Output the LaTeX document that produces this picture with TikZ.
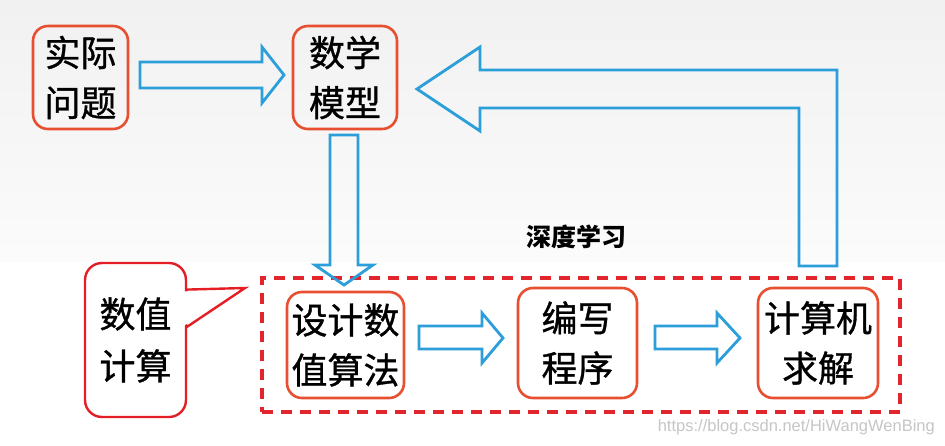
\documentclass[tikz,border=0pt]{standalone}
\usepackage{fontspec}
\newfontfamily\cjk{Noto Sans CJK SC}
\newfontfamily\cjkm[FakeBold=0.9]{Noto Sans CJK SC}
\newfontfamily\wmfont{Liberation Sans}
\definecolor{boxred}{RGB}{232,78,48}
\definecolor{dashred}{RGB}{226,36,44}
\definecolor{callred}{RGB}{228,30,36}
\definecolor{arrowblue}{RGB}{44,158,218}
\tikzset{
  box/.style={draw=boxred, line width=2.6pt, rounded corners=15pt, inner sep=0pt,
    align=center, font=\cjkm\fontsize{36}{50}\selectfont},
  calloutbox/.style={draw=callred, line width=2.4pt, rounded corners=17pt, inner sep=0pt,
    align=center, font=\cjkm\fontsize{36}{52}\selectfont},
  groupbox/.style={draw=dashred, line width=3.4pt, dash pattern=on 11pt off 8pt, inner sep=0pt},
  blockarrow/.style={draw=arrowblue, line width=2.8pt, line join=miter},
  titletext/.style={font=\cjk\bfseries\fontsize{25}{30}\selectfont},
  watermark/.style={font=\wmfont\fontsize{16.5}{20}\selectfont, text=gray!45, inner sep=0pt}
}
\begin{document}
\begin{tikzpicture}[x=1pt,y=-1pt]
\useasboundingbox (0,0) rectangle (945,445);
\shade[top color=gray!11, bottom color=gray!3] (0,0) rectangle (945,262);
\fill[white] (0,262) rectangle (945,445);

% boxes
\node[box, minimum width=95, minimum height=103] (q) at (80.5,77.5) {实际\\问题};
\node[box, minimum width=104, minimum height=103] (m) at (345,77.5) {数学\\模型};
\node[groupbox, minimum width=638, minimum height=134] (grp) at (581,345) {};
\node[box, minimum width=117, minimum height=106] (d) at (345.5,345) {设计数\\值算法};
\node[box, minimum width=119, minimum height=110] (p) at (577.5,343) {编写\\程序};
\node[box, minimum width=120, minimum height=110] (c) at (818,343) {计算机\\求解};
\node[calloutbox, minimum width=101, minimum height=154] (n) at (135.5,340) {数值\\计算};
\node[titletext] (t) at (576,237) {深度学习};

% callout pointer
\fill[white] (184.2,291.5) -- (243,288.5) -- (184.2,325.5) -- cycle;
\draw[draw=callred, line width=2.4pt, line join=miter] (186,289.6) -- (245,288) -- (186,327.5);

% block arrows
\draw[blockarrow] (140,62) -- (262,62) -- (262,47) -- (284,75) -- (262,103) -- (262,88) -- (140,88) -- cycle;
\draw[blockarrow] (330,135) -- (358,135) -- (358,265) -- (373,265) -- (344,285) -- (315,265) -- (330,265) -- cycle;
\draw[blockarrow] (837,266) -- (837,70) -- (480,70) -- (480,47) -- (417,89) -- (480,131) -- (480,108) -- (799,108) -- (799,266) -- cycle;
\draw[blockarrow] (419,326) -- (482,326) -- (482,313) -- (503,338) -- (482,363) -- (482,349) -- (419,349) -- cycle;
\draw[blockarrow] (655,326) -- (717,326) -- (717,313) -- (740,338) -- (717,363) -- (717,349) -- (655,349) -- cycle;

\node[watermark, anchor=east] (w) at (935,427) {https://blog.csdn.net/HiWangWenBing};
\end{tikzpicture}
\end{document}
